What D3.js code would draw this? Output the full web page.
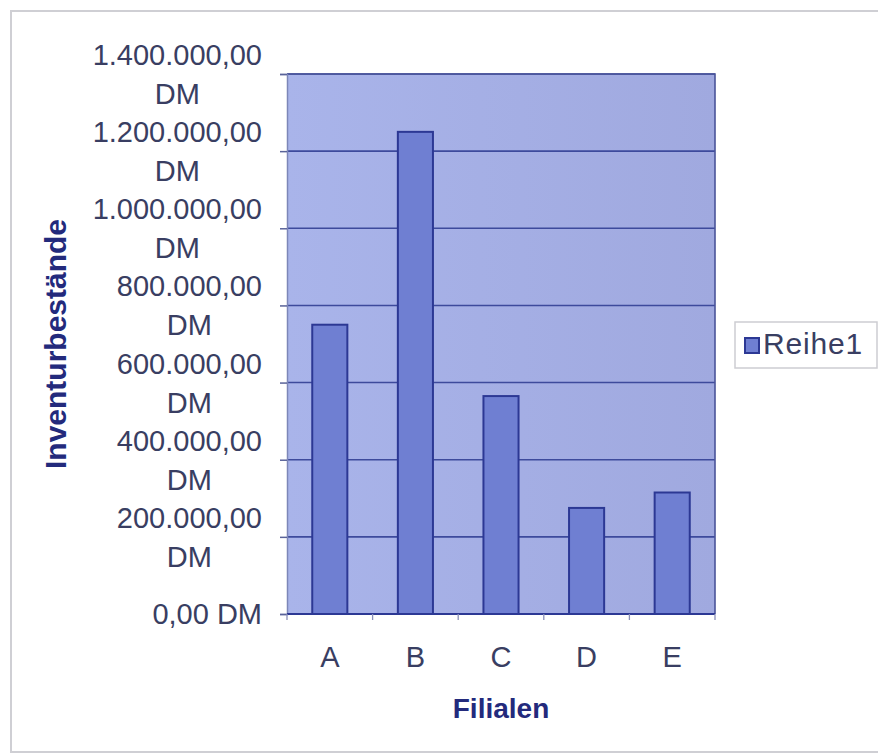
<!DOCTYPE html>
<html>
<head>
<meta charset="utf-8">
<script src="https://cdn.jsdelivr.net/npm/d3@7"></script>
<style>
  html, body { margin: 0; padding: 0; background: #ffffff; }
  svg { display: block; font-family: "Liberation Sans", Arial, sans-serif; }
</style>
</head>
<body>
<svg id="chart" width="878" height="755"></svg>
<script>
// Inventory per branch (DM)
const categories = ["A", "B", "C", "D", "E"];
const values = [750000, 1250000, 565000, 275000, 315000];
const seriesName = "Reihe1";
const yTickValues = [0, 200000, 400000, 600000, 800000, 1000000, 1200000, 1400000];
const xTitle = "Filialen";
const yTitle = "Inventurbestände";

const de = d3.formatLocale({
  decimal: ",",
  thousands: ".",
  grouping: [3],
  currency: ["", " DM"]
});
const fmt = de.format("$,.2f");

const svg = d3.select("#chart");
const W = 878, H = 755;

const plot = { left: 287, right: 715, top: 74, bottom: 614 };

// Outer chart frame
svg.append("rect")
  .attr("x", 11).attr("y", 11)
  .attr("width", W - 10).attr("height", 741)
  .attr("fill", "#ffffff")
  .attr("stroke", "#cfcfd4")
  .attr("stroke-width", 2);

const defs = svg.append("defs");
const grad = defs.append("linearGradient").attr("id", "plotBg")
  .attr("x1", "0").attr("x2", "1").attr("y1", "0").attr("y2", "0");
grad.append("stop").attr("offset", "0").attr("stop-color", "#a9b4ea");
grad.append("stop").attr("offset", "1").attr("stop-color", "#a0a9df");

const x = d3.scaleBand()
  .domain(categories)
  .range([plot.left, plot.right])
  .paddingInner(0.59)
  .paddingOuter(0.295);

const y = d3.scaleLinear()
  .domain([0, 1400000])
  .range([plot.bottom, plot.top]);

// Plot area
svg.append("rect")
  .attr("x", plot.left).attr("y", plot.top)
  .attr("width", plot.right - plot.left)
  .attr("height", plot.bottom - plot.top)
  .attr("fill", "url(#plotBg)");

// Gridlines
svg.append("g")
  .selectAll("line")
  .data(yTickValues.filter(v => v > 0))
  .join("line")
  .attr("x1", plot.left).attr("x2", plot.right)
  .attr("y1", d => y(d)).attr("y2", d => y(d))
  .attr("stroke", "#3d4a9c")
  .attr("stroke-width", 1.6);

// Plot border (top / right)
svg.append("path")
  .attr("d", `M${plot.left},${plot.top}H${plot.right}V${plot.bottom}`)
  .attr("fill", "none")
  .attr("stroke", "#4a5499")
  .attr("stroke-width", 1.6);

// Bars
svg.append("g")
  .selectAll("rect")
  .data(values)
  .join("rect")
  .attr("x", (d, i) => x(categories[i]))
  .attr("y", d => y(d))
  .attr("width", x.bandwidth())
  .attr("height", d => y(0) - y(d))
  .attr("fill", "#6f7fd2")
  .attr("stroke", "#2c3894")
  .attr("stroke-width", 2);

// Y axis: line, ticks
const yAxis = svg.append("g")
  .attr("transform", `translate(${plot.left},0)`)
  .call(d3.axisLeft(y).tickValues(yTickValues).tickSize(7).tickFormat(""));
yAxis.select(".domain").attr("stroke", "#7d86b8").attr("stroke-width", 1.5);
yAxis.selectAll(".tick line").attr("stroke", "#5a6399").attr("stroke-width", 1.5);

// Y tick labels: right-aligned block, wrapped lines centred within it
const labelRight = 262;
const maxLabelWidth = 180;
const lineGap = 39;
const yLabels = svg.append("g")
  .attr("font-size", 29)
  .attr("fill", "#393e62");

yTickValues.forEach(v => {
  const full = fmt(v);
  const probe = yLabels.append("text").text(full);
  const fw = probe.node().getComputedTextLength();
  probe.remove();
  let lines;
  if (fw <= maxLabelWidth) {
    lines = [full];
  } else {
    const k = full.lastIndexOf(" ");
    lines = [full.slice(0, k), full.slice(k + 1)];
  }
  const widths = lines.map(l => {
    const t = yLabels.append("text").text(l);
    const w = t.node().getComputedTextLength();
    t.remove();
    return w;
  });
  const boxW = d3.max(widths);
  const cx = labelRight - boxW / 2;
  const y0 = y(v) - (lines.length - 1) * lineGap / 2;
  lines.forEach((l, i) => {
    yLabels.append("text")
      .attr("x", cx)
      .attr("y", y0 + i * lineGap)
      .attr("dy", "0.36em")
      .attr("text-anchor", "middle")
      .text(l);
  });
});

// X axis
const xAxis = svg.append("g")
  .attr("transform", `translate(0,${plot.bottom})`);
xAxis.append("line")
  .attr("x1", plot.left).attr("x2", plot.right)
  .attr("stroke", "#2c3894").attr("stroke-width", 2);
const boundaries = d3.range(categories.length + 1)
  .map(i => plot.left + i * x.step());
xAxis.selectAll("line.tk")
  .data(boundaries)
  .join("line")
  .attr("class", "tk")
  .attr("x1", d => d).attr("x2", d => d)
  .attr("y1", 0).attr("y2", 6)
  .attr("stroke", "#8a90b8").attr("stroke-width", 1.3);

svg.append("g")
  .selectAll("text")
  .data(categories)
  .join("text")
  .attr("x", d => x(d) + x.bandwidth() / 2)
  .attr("y", 667)
  .attr("text-anchor", "middle")
  .attr("font-size", 29)
  .attr("fill", "#393e62")
  .text(d => d);

// Axis titles
svg.append("text")
  .attr("x", (plot.left + plot.right) / 2)
  .attr("y", 718)
  .attr("text-anchor", "middle")
  .attr("font-size", 28)
  .attr("font-weight", "bold")
  .attr("fill", "#232a7c")
  .text(xTitle);

svg.append("text")
  .attr("transform", `translate(66,${(plot.top + plot.bottom) / 2}) rotate(-90)`)
  .attr("text-anchor", "middle")
  .attr("font-size", 30)
  .attr("font-weight", "bold")
  .attr("fill", "#232a7c")
  .text(yTitle);

// Legend
const legend = svg.append("g").attr("transform", "translate(735,322)");
legend.append("rect")
  .attr("width", 142).attr("height", 46)
  .attr("fill", "#ffffff")
  .attr("stroke", "#cdcdd2").attr("stroke-width", 1.5);
legend.append("rect")
  .attr("x", 10).attr("y", 16)
  .attr("width", 14).attr("height", 15)
  .attr("fill", "#6f7fd2")
  .attr("stroke", "#2c3894").attr("stroke-width", 2);
legend.append("text")
  .attr("x", 28).attr("y", 32)
  .attr("font-size", 30)
  .attr("letter-spacing", 0.8)
  .attr("fill", "#393e62")
  .text(seriesName);
</script>
</body>
</html>
